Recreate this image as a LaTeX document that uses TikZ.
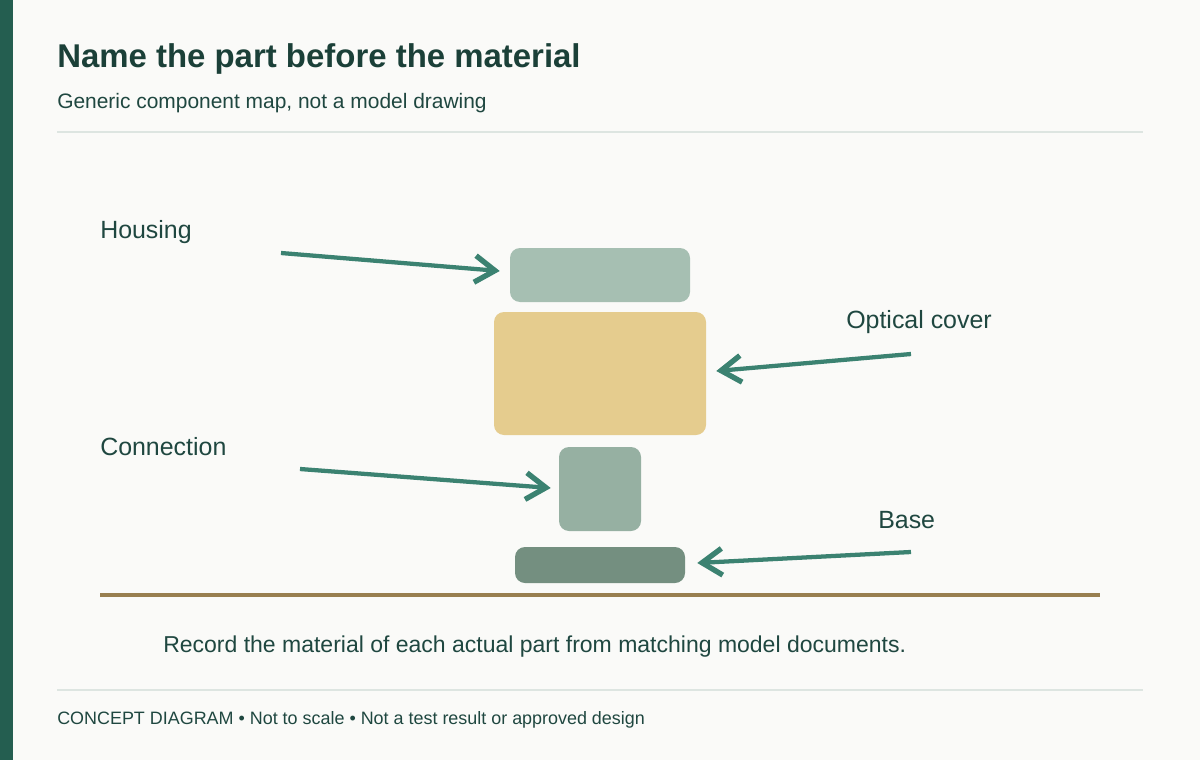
\documentclass[tikz,border=0pt]{standalone}
\usepackage{fontspec}
\setmainfont{Liberation Sans}
\usetikzlibrary{arrows.meta,calc}
\definecolor{bg}{HTML}{FAFAF8}
\definecolor{bar}{HTML}{245E50}
\definecolor{titleink}{HTML}{1B4038}
\definecolor{ink}{HTML}{1F4740}
\definecolor{arrowc}{HTML}{3B8271}
\definecolor{housingc}{HTML}{A6BFB2}
\definecolor{opticalc}{HTML}{E5CC8E}
\definecolor{connc}{HTML}{96B0A2}
\definecolor{basec}{HTML}{748F80}
\definecolor{groundc}{HTML}{987F50}
\definecolor{rulec}{HTML}{DDE5E1}
\begin{document}
\begin{tikzpicture}[x=0.75pt,y=-0.75pt,
  part/.style={rectangle, rounded corners=7.5pt, inner sep=0pt, draw=none},
  lbl/.style={anchor=base west, inner sep=0pt, font=\fontsize{18.7}{22}\selectfont, text=ink},
  pointer/.style={draw=arrowc, line width=3.2pt, -{Straight Barb[length=15pt,width=20pt,line width=4pt]}},
  rulestyle/.style={draw=rulec, line width=1.5pt}]
\useasboundingbox (0,0) rectangle (1200,760);
\fill[bg] (0,0) rectangle (1200,760);
\fill[bar] (0,0) rectangle (13,760);
% header
\node[anchor=base west, inner sep=0pt, font=\fontsize{24.7}{28}\selectfont\bfseries, text=titleink] (title) at (57,67) {Name the part before the material};
\node[anchor=base west, inner sep=0pt, font=\fontsize{15.7}{19}\selectfont, text=ink] (subtitle) at (57,108) {Generic component map, not a model drawing};
\draw[rulestyle] (57,131.5) -- (1143,131.5);
% parts
\node[part, fill=housingc, minimum width=135pt, minimum height=40.5pt] (housing) at (600,275) {};
\node[part, fill=opticalc, minimum width=159pt, minimum height=92.25pt] (optical) at (600,373.5) {};
\node[part, fill=connc, minimum width=61.5pt, minimum height=63pt] (connection) at (600,489) {};
\node[part, fill=basec, minimum width=127.5pt, minimum height=27pt] (base) at (600,565) {};
% ground
\draw[draw=groundc, line width=3pt] (100,595) -- (1100,595);
% labels
\node[lbl] (lhousing) at (100,238) {Housing};
\node[lbl] (loptical) at (846,328) {Optical cover};
\node[lbl] (lconn) at (100,455.5) {Connection};
\node[lbl] (lbase) at (878,528.5) {Base};
% arrows
\coordinate (hs) at (281,253);
\coordinate (os) at (911,354);
\coordinate (cs) at (300,469);
\coordinate (bs) at (911,552);
\draw[pointer] (hs) -- ($(housing.west)+(-10,-4)$);
\draw[pointer] (os) -- ($(optical.east)+(10,-2.5)$);
\draw[pointer] (cs) -- ($(connection.west)+(-8,-1)$);
\draw[pointer] (bs) -- ($(base.east)+(12,-2)$);
% note
\node[anchor=base west, inner sep=0pt, font=\fontsize{17.25}{21}\selectfont, text=ink] (note) at (163,652) {Record the material of each actual part from matching model documents.};
\draw[rulestyle] (57,689.5) -- (1143,689.5);
\node[anchor=base west, inner sep=0pt, font=\fontsize{13.45}{16}\selectfont, text=ink] (footer) at (57,724) {CONCEPT DIAGRAM • Not to scale • Not a test result or approved design};
\end{tikzpicture}
\end{document}
